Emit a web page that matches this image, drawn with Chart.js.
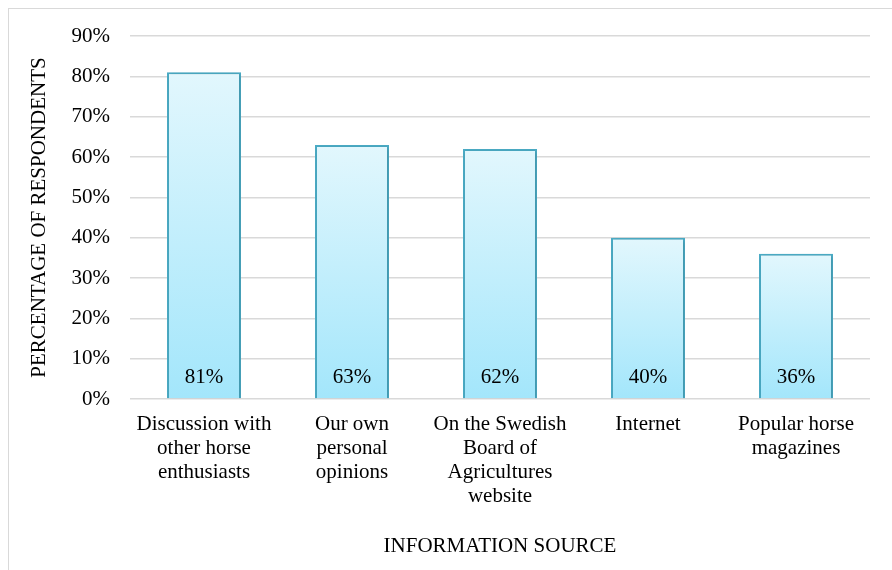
<!DOCTYPE html>
<html>
<head>
<meta charset="utf-8">
<script src="https://cdn.jsdelivr.net/npm/chart.js@4.4.1/dist/chart.umd.min.js"></script>
<style>
  html, body { margin: 0; padding: 0; background: #fff; }
  #frame { position: absolute; left: 8px; top: 8px; width: 900px; height: 600px; border: 1px solid #d9d9d9; }
  #wrap { position: absolute; left: 0; top: 0; width: 892px; height: 570px; }
</style>
</head>
<body>
<div id="frame"></div>
<div id="wrap"><canvas id="chart" width="892" height="570"></canvas></div>
<script>
// ===== data =====
const categories = [
    ['Discussion with', 'other horse', 'enthusiasts'],
    ['Our own', 'personal', 'opinions'],
    ['On the Swedish', 'Board of', 'Agricultures', 'website'],
    'Internet',
    ['Popular horse', 'magazines']
];
const percentValues = [81, 63, 62, 40, 36];
const yTicks = [0, 10, 20, 30, 40, 50, 60, 70, 80, 90];

const FONT = "'Liberation Serif', 'Times New Roman', serif";
const FSIZE = 21;

// gradient per bar, light at the top, deeper cyan at the base
function barFill(context) {
    const chart = context.chart;
    if (!chart.chartArea || context.type !== 'data') return '#c8f0fc';
    const y = chart.scales.y;
    const top = y.getPixelForValue(context.parsed.y);
    const base = y.getPixelForValue(0);
    const g = chart.ctx.createLinearGradient(0, top, 0, base);
    g.addColorStop(0, '#e2f7fd');
    g.addColorStop(1, '#a3e6fb');
    return g;
}

// value labels near the bottom of each bar
const valueLabels = {
    id: 'valueLabels',
    afterDatasetsDraw(chart) {
        const ctx = chart.ctx;
        const meta = chart.getDatasetMeta(0);
        ctx.save();
        ctx.font = FSIZE + 'px ' + FONT;
        ctx.fillStyle = '#000';
        ctx.textAlign = 'center';
        ctx.textBaseline = 'middle';
        meta.data.forEach((bar, i) => {
            ctx.fillText(percentValues[i] + '%', bar.x, bar.base - 21);
        });
        ctx.restore();
    }
};

// soft shadow behind bars
const barShadow = {
    id: 'barShadow',
    beforeDatasetsDraw(chart) {
        const ctx = chart.ctx;
        ctx.save();
        ctx.shadowColor = 'rgba(0,0,0,0.18)';
        ctx.shadowBlur = 4;
        ctx.shadowOffsetX = 1;
        ctx.shadowOffsetY = 1;
    },
    afterDatasetsDraw(chart) {
        chart.ctx.restore();
    }
};

new Chart(document.getElementById('chart'), {
    type: 'bar',
    data: {
        labels: categories,
        datasets: [{
            data: percentValues,
            backgroundColor: barFill,
            borderColor: '#4bacc6',
            borderWidth: 2,
            barPercentage: 0.5,
            categoryPercentage: 1.0
        }]
    },
    options: {
        responsive: false,
        animation: false,
        layout: { padding: { left: 23, right: 22, top: 36, bottom: 7 } },
        plugins: {
            legend: { display: false },
            tooltip: { enabled: false }
        },
        scales: {
            x: {
                grid: { display: false, drawTicks: false },
                border: { display: false },
                ticks: {
                    color: '#000',
                    font: { family: FONT, size: FSIZE, lineHeight: 1.143 },
                    padding: 13,
                    maxRotation: 0,
                    autoSkip: false
                },
                title: {
                    display: true,
                    text: 'INFORMATION SOURCE',
                    color: '#000',
                    font: { family: FONT, size: FSIZE }
                },
                afterFit(scale) { scale.height = 570 - 399 - 7; }
            },
            y: {
                min: 0,
                max: 90,
                afterBuildTicks(scale) { scale.ticks = yTicks.map(v => ({ value: v })); },
                grid: { color: '#d9d9d9', lineWidth: 1.5, drawTicks: false },
                border: { display: false },
                ticks: {
                    color: '#000',
                    font: { family: FONT, size: FSIZE },
                    padding: 20,
                    callback: v => v + '%'
                },
                title: {
                    display: true,
                    text: 'PERCENTAGE OF RESPONDENTS',
                    color: '#000',
                    font: { family: FONT, size: FSIZE }
                },
                afterFit(scale) { scale.width = 107; }
            }
        }
    },
    plugins: [barShadow, valueLabels]
});
</script>
</body>
</html>
